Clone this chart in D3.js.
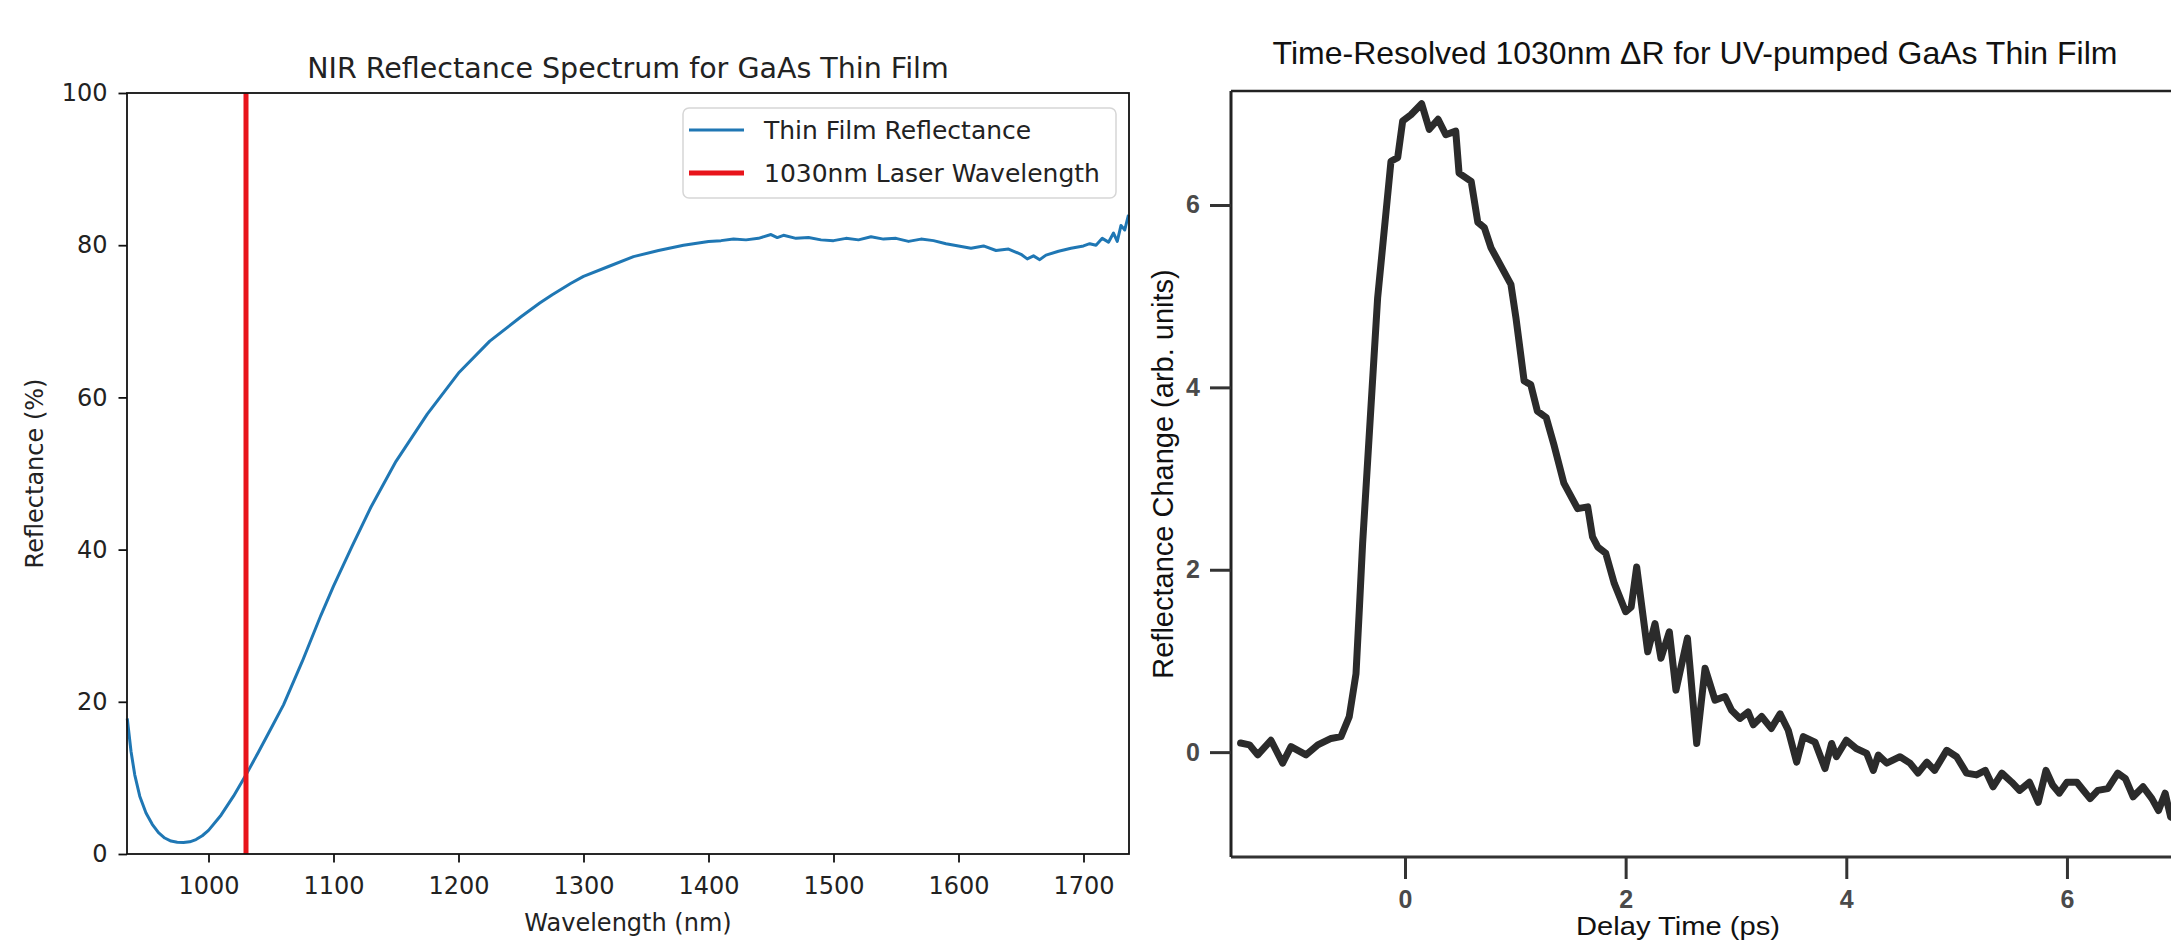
<!DOCTYPE html>
<html>
<head>
<meta charset="utf-8">
<script src="https://cdn.jsdelivr.net/npm/d3@7"></script>
<style>
  html, body { margin: 0; padding: 0; background: #fff; }
  svg { display: block; }
</style>
</head>
<body>
<div id="chart"></div>
<script>
// Left panel: NIR reflectance spectrum
const wavelengths = [935, 938, 941, 945, 950, 955, 960, 965, 970, 975, 980, 985, 990, 995, 1000,
  1010, 1020, 1030, 1040, 1050, 1060, 1075, 1090, 1100, 1115, 1130, 1150, 1175, 1200, 1225,
  1250, 1265, 1275, 1290, 1300, 1320, 1340, 1360, 1380, 1400, 1410, 1420, 1430, 1440, 1450,
  1455, 1460, 1470, 1480, 1490, 1500, 1510, 1520, 1530, 1540, 1550, 1560, 1570, 1580, 1590,
  1600, 1610, 1620, 1630, 1640, 1650, 1655, 1660, 1665, 1670, 1680, 1690, 1700, 1705, 1710,
  1715, 1720, 1724, 1727, 1730, 1733, 1736];
const reflectance = [17.8, 13.5, 10.4, 7.6, 5.4, 3.9, 2.8, 2.1, 1.7, 1.55, 1.5, 1.6, 1.9, 2.4, 3.1,
  5.1, 7.6, 10.4, 13.4, 16.5, 19.6, 25.3, 31.4, 35.2, 40.5, 45.6, 51.6, 57.8, 63.2, 67.4,
  70.6, 72.4, 73.5, 75.0, 75.9, 77.2, 78.5, 79.3, 80.0, 80.5, 80.6, 80.8, 80.7, 80.9, 81.4,
  81.0, 81.3, 80.9, 81.0, 80.7, 80.6, 80.9, 80.7, 81.1, 80.8, 80.9, 80.5, 80.8, 80.6, 80.2,
  79.9, 79.6, 79.9, 79.3, 79.5, 78.8, 78.2, 78.6, 78.1, 78.7, 79.2, 79.6, 79.9, 80.2, 80.0,
  80.9, 80.4, 81.6, 80.5, 82.6, 82.0, 84.0];
const laserWavelength = 1030;
const wavelengthTicks = [1000, 1100, 1200, 1300, 1400, 1500, 1600, 1700];
const reflectanceTicks = [0, 20, 40, 60, 80, 100];
const legendNames = ["Thin Film Reflectance", "1030nm Laser Wavelength"];
const legendColors = ["#1f77b4", "#e8141b"];

// Right panel: time-resolved reflectance change
const delayTimes = [-1.49, -1.41, -1.335, -1.215, -1.109, -1.033, -0.897, -0.79, -0.67, -0.58,
  -0.505, -0.444, -0.414, -0.384, -0.338, -0.248, -0.127, -0.066, -0.021, 0.054,
  0.151, 0.22, 0.30, 0.37, 0.46, 0.49, 0.60, 0.66, 0.72, 0.78,
  0.96, 1.006, 1.08, 1.14, 1.20, 1.28, 1.35, 1.44, 1.565, 1.656,
  1.70, 1.747, 1.82, 1.897, 2.00, 2.05, 2.10, 2.20, 2.266, 2.32,
  2.396, 2.456, 2.56, 2.644, 2.72, 2.81, 2.90, 2.96, 3.036, 3.11,
  3.157, 3.233, 3.32, 3.40, 3.474, 3.55, 3.61, 3.716, 3.807, 3.867,
  3.91, 4.00, 4.09, 4.185, 4.245, 4.29, 4.366, 4.487, 4.577, 4.65,
  4.73, 4.80, 4.91, 5.00, 5.09, 5.18, 5.26, 5.33, 5.41, 5.50,
  5.57, 5.66, 5.74, 5.81, 5.87, 5.93, 6.00, 6.09, 6.15, 6.21,
  6.28, 6.37, 6.46, 6.53, 6.60, 6.69, 6.77, 6.83, 6.89, 6.94, 7.0];
const deltaR = [0.10, 0.08, -0.03, 0.13, -0.12, 0.06, -0.03, 0.08, 0.15, 0.17,
  0.39, 0.86, 1.56, 2.29, 3.20, 4.98, 6.48, 6.52, 6.92, 6.99,
  7.11, 6.83, 6.94, 6.77, 6.81, 6.35, 6.26, 5.81, 5.75, 5.53,
  5.13, 4.76, 4.07, 4.03, 3.74, 3.67, 3.37, 2.95, 2.67, 2.69,
  2.36, 2.25, 2.18, 1.85, 1.54, 1.59, 2.03, 1.10, 1.41, 1.03,
  1.32, 0.68, 1.25, 0.095, 0.92, 0.57, 0.61, 0.46, 0.37, 0.44,
  0.30, 0.39, 0.26, 0.42, 0.24, -0.11, 0.17, 0.11, -0.18, 0.095,
  -0.05, 0.13, 0.04, -0.014, -0.20, -0.033, -0.12, -0.05, -0.12, -0.23,
  -0.11, -0.20, 0.02, -0.05, -0.23, -0.25, -0.20, -0.38, -0.23, -0.33,
  -0.42, -0.33, -0.55, -0.20, -0.36, -0.45, -0.33, -0.33, -0.42, -0.51,
  -0.42, -0.40, -0.23, -0.29, -0.49, -0.38, -0.51, -0.64, -0.45, -0.71, -0.75];
const delayTicks = [0, 2, 4, 6];
const deltaTicks = [0, 2, 4, 6];

const width = 2171;
const height = 940;

const svg = d3.select("#chart")
  .append("svg")
  .attr("width", width)
  .attr("height", height);

// ---------- left panel (matplotlib look) ----------
const L = { left: 127, right: 1129, top: 93, bottom: 854 };
const mplFont = "'DejaVu Sans', sans-serif";

const xLeft = d3.scaleLinear().domain([934.8, 1736.4]).range([L.left, L.right]);
const yLeft = d3.scaleLinear().domain([0, 100]).range([L.bottom, L.top]);

const gLeft = svg.append("g");

const leftLine = d3.line()
  .x((d, i) => xLeft(wavelengths[i]))
  .y(d => yLeft(d));

gLeft.append("path")
  .datum(reflectance)
  .attr("d", leftLine)
  .attr("fill", "none")
  .attr("stroke", legendColors[0])
  .attr("stroke-width", 3)
  .attr("stroke-linejoin", "round");

// laser line
gLeft.append("line")
  .attr("x1", xLeft(laserWavelength))
  .attr("x2", xLeft(laserWavelength))
  .attr("y1", yLeft(0))
  .attr("y2", yLeft(100))
  .attr("stroke", legendColors[1])
  .attr("stroke-width", 5);

// frame
gLeft.append("rect")
  .attr("x", L.left)
  .attr("y", L.top)
  .attr("width", L.right - L.left)
  .attr("height", L.bottom - L.top)
  .attr("fill", "none")
  .attr("stroke", "#111")
  .attr("stroke-width", 1.8);

const xAxisLeft = gLeft.append("g")
  .attr("transform", `translate(0,${L.bottom})`)
  .call(d3.axisBottom(xLeft).tickValues(wavelengthTicks).tickSize(8.5).tickPadding(14).tickFormat(d3.format("d")));

const yAxisLeft = gLeft.append("g")
  .attr("transform", `translate(${L.left},0)`)
  .call(d3.axisLeft(yLeft).tickValues(reflectanceTicks).tickSize(8.5).tickPadding(11).tickFormat(d3.format("d")));

[xAxisLeft, yAxisLeft].forEach(ax => {
  ax.select(".domain").remove();
  ax.selectAll(".tick line").attr("stroke", "#111").attr("stroke-width", 1.8);
  ax.selectAll(".tick text")
    .attr("fill", "#222")
    .style("font-family", mplFont)
    .style("font-size", "24px");
});

gLeft.append("text")
  .attr("x", (L.left + L.right) / 2)
  .attr("y", 78)
  .attr("text-anchor", "middle")
  .style("font-family", mplFont)
  .style("font-size", "28.5px")
  .attr("fill", "#222")
  .text("NIR Reflectance Spectrum for GaAs Thin Film");

gLeft.append("text")
  .attr("x", (L.left + L.right) / 2)
  .attr("y", 931)
  .attr("text-anchor", "middle")
  .style("font-family", mplFont)
  .style("font-size", "24px")
  .attr("fill", "#222")
  .text("Wavelength (nm)");

gLeft.append("text")
  .attr("transform", `translate(43,${(L.top + L.bottom) / 2}) rotate(-90)`)
  .attr("text-anchor", "middle")
  .style("font-family", mplFont)
  .style("font-size", "24px")
  .attr("fill", "#222")
  .text("Reflectance (%)");

// legend
const legend = gLeft.append("g").attr("transform", "translate(683,108)");
legend.append("rect")
  .attr("width", 433)
  .attr("height", 90)
  .attr("rx", 6)
  .attr("fill", "#fff")
  .attr("stroke", "#d6d6d6")
  .attr("stroke-width", 1.5);

const legendItems = legend.selectAll("g.item")
  .data(legendNames)
  .enter()
  .append("g")
  .attr("class", "item")
  .attr("transform", (d, i) => `translate(0,${22 + i * 43})`);

legendItems.append("line")
  .attr("x1", 6)
  .attr("x2", 61)
  .attr("stroke", (d, i) => legendColors[i])
  .attr("stroke-width", (d, i) => i === 0 ? 3 : 5);

legendItems.append("text")
  .attr("x", 81)
  .attr("dy", "0.36em")
  .style("font-family", mplFont)
  .style("font-size", "25px")
  .attr("fill", "#222")
  .text(d => d);

// ---------- right panel (scanned plot look) ----------
const R = { left: 1231, right: 2185, top: 91, bottom: 857 };
const arialFont = "'Liberation Sans', Arial, sans-serif";

const xRight = d3.scaleLinear().domain([-1.577, 7.07]).range([R.left, R.right]);
const yRight = d3.scaleLinear().domain([-1.15, 7.25]).range([R.bottom, R.top]);

const gRight = svg.append("g");

gRight.append("clipPath")
  .attr("id", "clipRight")
  .append("rect")
  .attr("x", R.left)
  .attr("y", R.top)
  .attr("width", R.right - R.left)
  .attr("height", R.bottom - R.top);

const rightLine = d3.line()
  .x((d, i) => xRight(delayTimes[i]))
  .y(d => yRight(d));

gRight.append("path")
  .datum(deltaR)
  .attr("d", rightLine)
  .attr("clip-path", "url(#clipRight)")
  .attr("fill", "none")
  .attr("stroke", "#2b2b2b")
  .attr("stroke-width", 7)
  .attr("stroke-linejoin", "round")
  .attr("stroke-linecap", "round");

// spines
gRight.append("line")
  .attr("x1", R.left).attr("x2", R.right)
  .attr("y1", R.top).attr("y2", R.top)
  .attr("stroke", "#222").attr("stroke-width", 2.5);
gRight.append("line")
  .attr("x1", R.left).attr("x2", R.right)
  .attr("y1", R.bottom).attr("y2", R.bottom)
  .attr("stroke", "#333").attr("stroke-width", 3);
gRight.append("line")
  .attr("x1", R.left).attr("x2", R.left)
  .attr("y1", R.top).attr("y2", R.bottom)
  .attr("stroke", "#222").attr("stroke-width", 3);

const xAxisRight = gRight.append("g")
  .attr("transform", `translate(0,${R.bottom})`)
  .call(d3.axisBottom(xRight).tickValues(delayTicks).tickSize(22).tickPadding(11).tickFormat(d3.format("d")));

const yAxisRight = gRight.append("g")
  .attr("transform", `translate(${R.left},0)`)
  .call(d3.axisLeft(yRight).tickValues(deltaTicks).tickSize(21).tickPadding(10).tickFormat(d3.format("d")));

[xAxisRight, yAxisRight].forEach(ax => {
  ax.select(".domain").remove();
  ax.selectAll(".tick line").attr("stroke", "#333").attr("stroke-width", 3);
  ax.selectAll(".tick text")
    .attr("fill", "#4a4a4a")
    .style("font-family", arialFont)
    .style("font-weight", "bold")
    .style("font-size", "25px");
});

gRight.append("text")
  .attr("x", 1695)
  .attr("y", 64)
  .attr("text-anchor", "middle")
  .style("font-family", arialFont)
  .style("font-size", "32px")
  .attr("fill", "#111")
  .text("Time-Resolved 1030nm ΔR for UV-pumped GaAs Thin Film");

gRight.append("text")
  .attr("transform", `translate(1173,${(R.top + R.bottom) / 2}) rotate(-90)`)
  .attr("text-anchor", "middle")
  .style("font-family", arialFont)
  .style("font-size", "29px")
  .attr("fill", "#111")
  .text("Reflectance Change (arb. units)");

// axis title kept inside the frame, just under the tick labels
gRight.append("text")
  .attr("x", 1678)
  .attr("y", 935)
  .attr("text-anchor", "middle")
  .attr("textLength", 204)
  .attr("lengthAdjust", "spacingAndGlyphs")
  .style("font-family", arialFont)
  .style("font-size", "25px")
  .attr("fill", "#111")
  .text("Delay Time (ps)");
</script>
</body>
</html>
